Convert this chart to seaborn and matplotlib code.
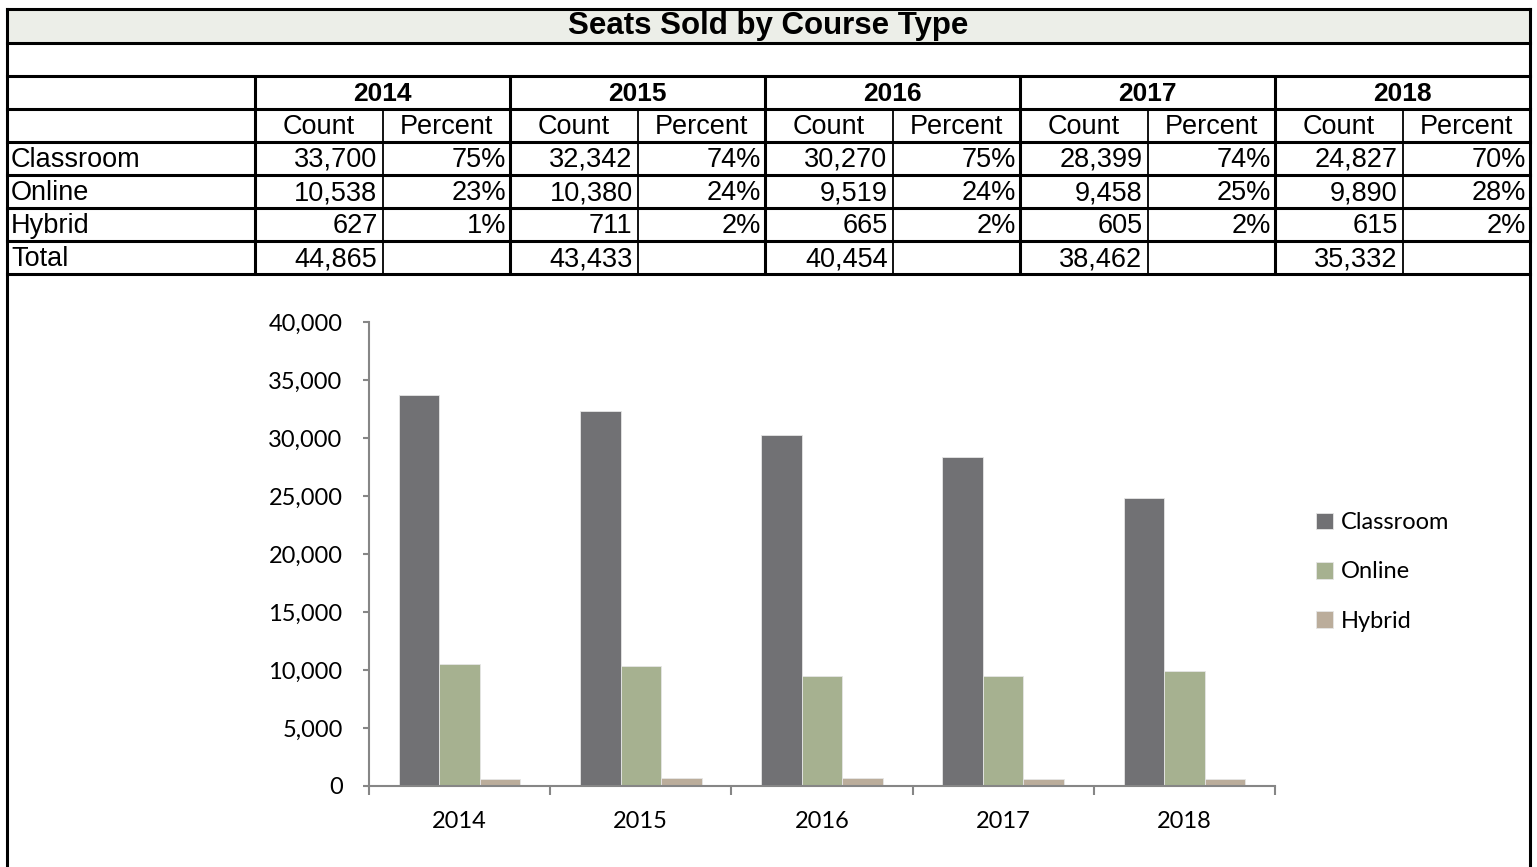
import numpy as np
import pandas as pd
import matplotlib
matplotlib.use('Agg')
import matplotlib.pyplot as plt
from matplotlib.patches import Rectangle
from matplotlib.ticker import FuncFormatter
import seaborn as sns


# data
years = ['2014', '2015', '2016', '2017', '2018']
course_types = ['Classroom', 'Online', 'Hybrid']
classroom = [33700, 32342, 30270, 28399, 24827]
online = [10538, 10380, 9519, 9458, 9890]
hybrid = [627, 711, 665, 605, 615]
classroom_pct = [75, 74, 75, 74, 70]
online_pct = [23, 24, 24, 25, 28]
hybrid_pct = [1, 2, 2, 2, 2]
totals = [44865, 43433, 40454, 38462, 35332]
colors = ['#717075', '#A8B78A', '#C0AE96']

sns.set_style('white')
plt.rcParams['font.family'] = ['Liberation Sans', 'DejaVu Sans']
plt.rcParams['text.color'] = 'black'
plt.rcParams['xtick.labelcolor'] = 'black'
plt.rcParams['ytick.labelcolor'] = 'black'

W, H = 1537, 867
fig = plt.figure(figsize=(W / 100, H / 100), dpi=100)

# TABLE - drawn in pixel coords on a full-figure axes
tab = fig.add_axes([0, 0, 1, 1], zorder=0)
tab.set_xlim(0, W)
tab.set_ylim(H, 0)
tab.axis('off')

x0, x1 = 7, 1530
label_w = 248
col_w = 255
rows_y = [9, 43, 76, 109, 142, 175, 208, 241, 274]

tab.add_patch(Rectangle((x0, rows_y[0]), x1 - x0, rows_y[1] - rows_y[0], color='#ECEEE8', zorder=0))
thick = 2.2
for y in rows_y:
    tab.plot([x0, x1], [y, y], color='black', lw=thick, solid_capstyle='projecting')
tab.plot([x0, x0], [rows_y[0], H], color='black', lw=thick, solid_capstyle='projecting')
tab.plot([x1, x1], [rows_y[0], H], color='black', lw=thick, solid_capstyle='projecting')
for i in range(len(years)):
    left = x0 + label_w + col_w * i
    tab.plot([left, left], [rows_y[2], rows_y[-1]], color='black', lw=thick)
    mid = left + col_w / 2
    tab.plot([mid, mid], [rows_y[3], rows_y[-1]], color='black', lw=1.3)

tab.text((x0 + x1) / 2, 26, 'Seats Sold by Course Type', ha='center', va='center',
         fontsize=22.5, fontweight='bold')

row_mid = [(rows_y[k] + rows_y[k + 1]) / 2 + 1.5 for k in range(len(rows_y) - 1)]
row_names = course_types + ['Total']
counts = [classroom, online, hybrid, totals]
pcts = [classroom_pct, online_pct, hybrid_pct, None]
fs = 19.5

for i, yr in enumerate(years):
    left = x0 + label_w + col_w * i
    mid = left + col_w / 2
    tab.text(mid, row_mid[2], yr, ha='center', va='center', fontsize=19, fontweight='bold')
    tab.text((left + mid) / 2, row_mid[3], 'Count', ha='center', va='center', fontsize=fs)
    tab.text((mid + left + col_w) / 2, row_mid[3], 'Percent', ha='center', va='center', fontsize=fs)
    for r in range(4):
        tab.text(mid - 5, row_mid[4 + r], f'{counts[r][i]:,}', ha='right', va='center', fontsize=fs)
        if pcts[r] is not None:
            tab.text(left + col_w - 4, row_mid[4 + r], f'{pcts[r][i]}%', ha='right', va='center',
                     fontsize=fs)

for r, name in enumerate(row_names):
    tab.text(x0 + 4, row_mid[4 + r], name, ha='left', va='center', fontsize=fs)

# CHART
ax = fig.add_axes([369 / W, 1 - 786 / H, (1275 - 369) / W, (786 - 322) / H], zorder=1)
ax.set_facecolor('none')

df = pd.DataFrame({
    'Year': years * 3,
    'Type': [t for t in course_types for _ in years],
    'Seats': classroom + online + hybrid,
})
sns.barplot(data=df, x='Year', y='Seats', hue='Type', palette=colors, width=0.67,
            errorbar=None, edgecolor='#e6e6e6', linewidth=0.6, ax=ax)

chart_font = ['Lato', 'DejaVu Sans']
chart_fs = 17
ax.set_xlim(-0.5, len(years) - 0.5)
ax.set_ylim(0, 40000)
ax.set_yticks(np.arange(0, 40001, 5000))
ax.yaxis.set_major_formatter(FuncFormatter(lambda v, p: f'{int(v):,}'))
ax.set_xticks(np.arange(-0.5, len(years), 1), minor=True)
ax.set_xlabel('')
ax.set_ylabel('')

sns.despine(ax=ax)
for s in ['left', 'bottom']:
    ax.spines[s].set_color('#868686')
    ax.spines[s].set_linewidth(1.5)

ax.tick_params(axis='x', which='major', bottom=False, length=0, pad=18)
ax.tick_params(axis='x', which='minor', bottom=True, length=6.5, width=1.5, color='#868686',
               direction='out')
ax.tick_params(axis='y', which='major', left=True, length=4, width=1.5, color='#868686',
               direction='out', pad=15)
for lbl in ax.get_xticklabels() + ax.get_yticklabels():
    lbl.set_family(chart_font)
    lbl.set_fontsize(chart_fs)

handles, labels = ax.get_legend_handles_labels()
ax.legend(handles, labels, loc='center left', bbox_to_anchor=(1316 / W, 1 - 572 / H),
          bbox_transform=fig.transFigure, frameon=False,
          prop={'family': chart_font, 'size': chart_fs},
          handlelength=0.7, handleheight=0.7, handletextpad=0.35,
          labelspacing=1.2, borderpad=0, borderaxespad=0)

fig.savefig('out.png', dpi=100, facecolor='white')
